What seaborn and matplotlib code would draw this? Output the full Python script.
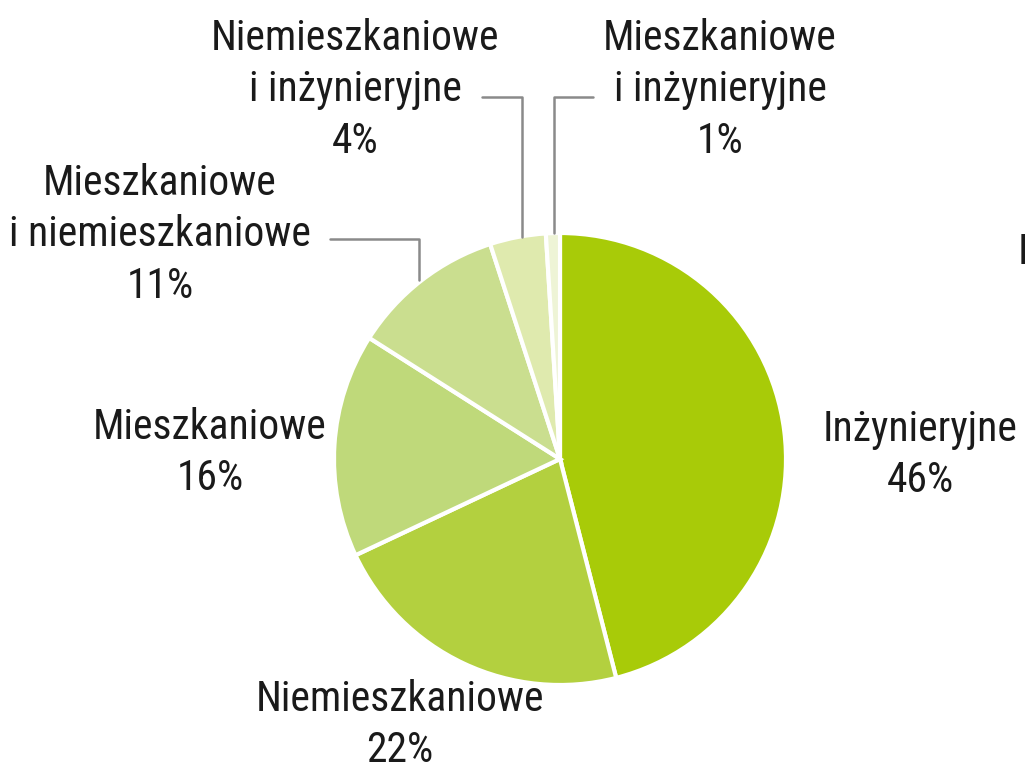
import matplotlib
matplotlib.use("Agg")
import matplotlib.pyplot as plt
import seaborn as sns

# shares of building types (clockwise from 12 o'clock)
categories = ["Inżynieryjne", "Niemieszkaniowe", "Mieszkaniowe",
              "Mieszkaniowe\ni niemieszkaniowe", "Niemieszkaniowe\ni inżynieryjne",
              "Mieszkaniowe\ni inżynieryjne"]
shares = [46, 22, 16, 11, 4, 1]
colors = ["#a8cb08", "#b3d03f", "#bfd97a", "#cade8f", "#dfeaae", "#eef4d6"]

sns.set_theme(style="white")
plt.rcParams['font.family'] = ['Roboto Condensed', 'DejaVu Sans']

W, H = 1025, 772
fig = plt.figure(figsize=(W / 100, H / 100), dpi=100)
ax = fig.add_axes([0, 0, 1, 1])

cx, cy, r = 560, H - 459, 226
ax.pie(shares, colors=colors, startangle=90, counterclock=False,
       center=(cx, cy), radius=r,
       wedgeprops=dict(edgecolor="white", linewidth=3))

# label anchors (x, y from top) for each slice
label_pos = [(920, 455), (400, 725), (210, 453), (160, 235), (355, 90), (720, 90)]
for name, val, (lx, ly) in zip(categories, shares, label_pos):
    ax.text(lx, H - ly, f"{name}\n{val}%", ha="center", va="center",
            fontsize=30, color="#1a1a1a", linespacing=1.33)

# leader lines for the small slices
gray = "#8a8a8a"
ax.plot([330, 419, 419], [H - 239, H - 239, H - 280], color=gray, lw=1.8)
ax.plot([482, 522, 522], [H - 97, H - 97, H - 237], color=gray, lw=1.8)
ax.plot([593, 554, 554], [H - 97, H - 97, H - 233], color=gray, lw=1.8)

# stray letter cut by the right edge in the source image
ax.text(1018, H - 253, "I", ha="left", va="center", fontsize=30, color="#1a1a1a")

ax.set_xlim(0, W)
ax.set_ylim(0, H)
ax.set_aspect("auto")
ax.axis("off")

fig.savefig("out.png", dpi=100)
